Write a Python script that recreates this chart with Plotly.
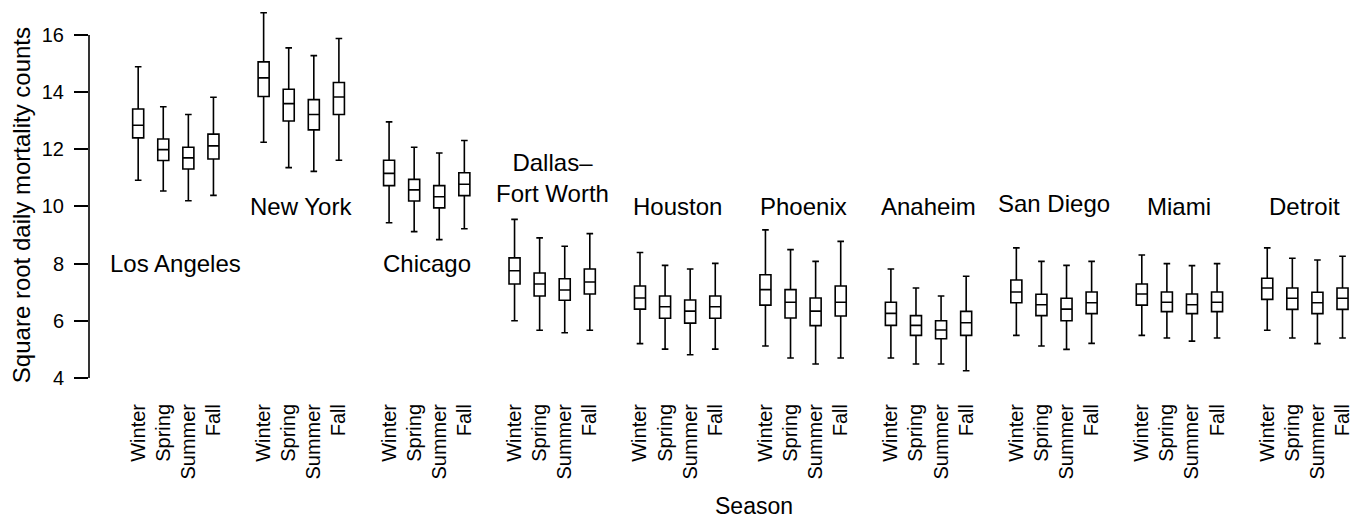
import plotly.graph_objects as go

# Seasonal distribution of square-root daily mortality counts by city
cities = ["Los Angeles", "New York", "Chicago", "Dallas–<br>Fort Worth", "Houston",
          "Phoenix", "Anaheim", "San Diego", "Miami", "Detroit"]
seasons = ["Winter", "Spring", "Summer", "Fall"]

# one row per city, columns follow `seasons`
upper_whisker = [
    [14.89, 13.49, 13.22, 13.82],
    [16.78, 15.55, 15.28, 15.88],
    [12.96, 12.07, 11.87, 12.31],
    [9.55, 8.90, 8.61, 9.05],
    [8.39, 7.94, 7.81, 8.01],
    [9.18, 8.49, 8.08, 8.78],
    [7.81, 7.15, 6.87, 7.56],
    [8.55, 8.08, 7.94, 8.08],
    [8.30, 8.00, 7.93, 8.00],
    [8.55, 8.19, 8.13, 8.26],
]
q3 = [
    [13.41, 12.36, 12.07, 12.53],
    [15.06, 14.10, 13.74, 14.34],
    [11.62, 10.95, 10.73, 11.18],
    [8.20, 7.67, 7.47, 7.81],
    [7.22, 6.87, 6.73, 6.87],
    [7.61, 7.09, 6.80, 7.22],
    [6.65, 6.18, 6.00, 6.33],
    [7.43, 6.93, 6.79, 7.01],
    [7.29, 7.01, 6.94, 7.01],
    [7.49, 7.15, 7.00, 7.15],
]
median = [
    [12.84, 11.99, 11.70, 12.12],
    [14.50, 13.60, 13.22, 13.83],
    [11.16, 10.58, 10.34, 10.78],
    [7.75, 7.29, 7.08, 7.36],
    [6.80, 6.49, 6.34, 6.49],
    [7.09, 6.65, 6.34, 6.65],
    [6.26, 5.84, 5.68, 5.93],
    [7.01, 6.56, 6.41, 6.63],
    [6.94, 6.65, 6.56, 6.65],
    [7.15, 6.79, 6.63, 6.79],
]
q1 = [
    [12.40, 11.61, 11.31, 11.66],
    [13.85, 12.99, 12.68, 13.22],
    [10.73, 10.19, 9.95, 10.38],
    [7.29, 6.87, 6.72, 6.94],
    [6.41, 6.09, 5.92, 6.09],
    [6.55, 6.10, 5.83, 6.17],
    [5.84, 5.49, 5.37, 5.49],
    [6.63, 6.18, 6.00, 6.25],
    [6.55, 6.32, 6.25, 6.32],
    [6.75, 6.40, 6.25, 6.40],
]
lower_whisker = [
    [10.92, 10.54, 10.20, 10.39],
    [12.25, 11.36, 11.23, 11.62],
    [9.43, 9.12, 8.84, 9.22],
    [6.00, 5.67, 5.58, 5.67],
    [5.20, 5.01, 4.81, 5.01],
    [5.12, 4.70, 4.49, 4.70],
    [4.70, 4.49, 4.49, 4.25],
    [5.49, 5.12, 5.00, 5.21],
    [5.49, 5.40, 5.29, 5.40],
    [5.67, 5.40, 5.20, 5.40],
]

# vertical placement (data units) of each city's name
label_y = [8, 10, 8, 11, 10, 10, 10, 10.1, 10, 10]

FONT = "Liberation Sans, Arial, Helvetica, sans-serif"
GROUP = len(seasons) + 1  # one empty slot between cities

xs, lo, a, m, b, hi, ticktext = [], [], [], [], [], [], []
for i in range(len(cities)):
    for j, s in enumerate(seasons):
        xs.append(i * GROUP + j)
        lo.append(lower_whisker[i][j])
        a.append(q1[i][j])
        m.append(median[i][j])
        b.append(q3[i][j])
        hi.append(upper_whisker[i][j])
        ticktext.append(s)

fig = go.Figure()
fig.add_trace(go.Box(
    x=xs, q1=a, median=m, q3=b, lowerfence=lo, upperfence=hi,
    width=0.44, whiskerwidth=0.6,
    line=dict(color="black", width=1.6), fillcolor="white",
    boxpoints=False, hoverinfo="skip", showlegend=False,
))

annotations = []
for i, name in enumerate(cities):
    annotations.append(dict(
        x=i * GROUP + 1.5, y=label_y[i], xref="x", yref="y", text=name,
        showarrow=False, xanchor="center", yanchor="middle",
        font=dict(family=FONT, size=24, color="black"),
    ))
annotations.append(dict(
    x=0.527, y=-0.319, xref="paper", yref="paper", text="Season",
    showarrow=False, xanchor="center", yanchor="middle",
    font=dict(family=FONT, size=23, color="black"),
))
annotations.append(dict(
    x=-0.053, y=0.475, xref="paper", yref="paper",
    text="Square root daily mortality counts", textangle=-90,
    showarrow=False, xanchor="center", yanchor="middle",
    font=dict(family=FONT, size=24, color="black"),
))

fig.update_layout(
    width=1353, height=518,
    margin=dict(l=89, r=0, t=6, b=133),
    paper_bgcolor="white", plot_bgcolor="white",
    font=dict(family=FONT, color="black"),
    annotations=annotations,
    shapes=[dict(type="line", xref="paper", yref="y", x0=0, x1=0, y0=4, y1=16,
                 line=dict(color="black", width=1.6))],
    xaxis=dict(
        range=[-1.960, 48.298], tickmode="array", tickvals=xs, ticktext=ticktext,
        tickangle=-90, showgrid=False, zeroline=False, showline=False, ticks="",
        tickfont=dict(family=FONT, size=20, color="black"), ticklabelstandoff=14,
        ticklabeloverflow="allow",
    ),
    yaxis=dict(
        range=[3.7537, 17.0147], tickmode="array", tickvals=[4, 6, 8, 10, 12, 14, 16],
        showgrid=False, zeroline=False, showline=False,
        ticks="outside", ticklen=14, tickwidth=1.6, tickcolor="black",
        tickfont=dict(family=FONT, size=20, color="black"), ticklabelstandoff=6,
    ),
)

fig.write_html("out.html")
